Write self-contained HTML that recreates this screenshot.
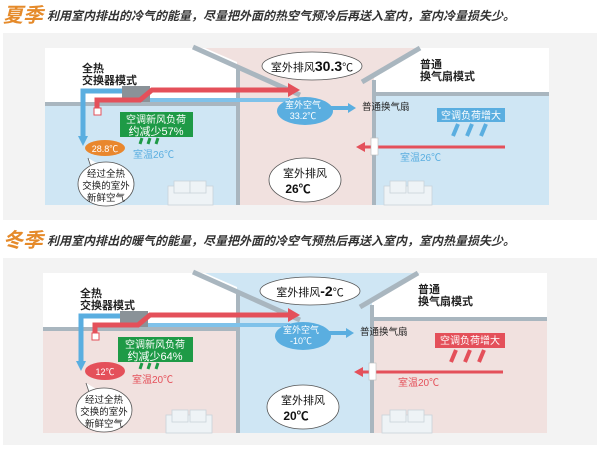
<!DOCTYPE html>
<html><head><meta charset="utf-8"><style>
body{margin:0;background:#fff;width:600px;height:450px;overflow:hidden}
svg{display:block}
text{font-family:"Liberation Sans","Noto Sans CJK SC",sans-serif}
</style></head><body>
<svg width="600" height="450" viewBox="0 0 600 450">
<defs>
<marker id="ab" markerWidth="4" markerHeight="4" refX="2" refY="2" orient="auto" markerUnits="strokeWidth"><path d="M0,0L4,2L0,4z" fill="#5aaee0"/></marker>
<marker id="ar" markerWidth="3" markerHeight="3" refX="1.5" refY="1.5" orient="auto" markerUnits="strokeWidth"><path d="M0,0L3,1.5L0,3z" fill="#e4505a"/></marker>
</defs>

<!-- SUMMER -->
<g>
<text x="3" y="22" font-size="20" font-weight="bold" font-style="italic" fill="#e58a2a">夏季</text>
<text x="47" y="20" font-size="12" font-weight="bold" font-style="italic" fill="#333">利用室内排出的冷气的能量，尽量把外面的热空气预冷后再送入室内，室内冷量损失少。</text>
<rect x="3" y="33" width="594" height="187" fill="#f3f3f3"/>
<rect x="45" y="48" width="504" height="157" fill="#fff"/>
<rect x="45" y="105" width="192" height="100" fill="#cfe6f4"/>
<polygon points="205,48 420,48 374,78 374,205 237,205 237,62" fill="#f1e1df"/>
<rect x="376" y="95" width="173" height="110" fill="#cfe6f4"/>
<line x1="45" y1="104" x2="237" y2="104" stroke="#a9b6bf" stroke-width="4"/>
<line x1="376" y1="94" x2="549" y2="94" stroke="#a9b6bf" stroke-width="4"/>
<line x1="193" y1="47" x2="300" y2="95" stroke="#a9b6bf" stroke-width="5"/>
<line x1="420" y1="48" x2="362" y2="82" stroke="#a9b6bf" stroke-width="5"/>
<line x1="238" y1="66" x2="238" y2="205" stroke="#a9b6bf" stroke-width="4"/>
<line x1="374" y1="80" x2="374" y2="205" stroke="#a9b6bf" stroke-width="4"/>
<text x="82" y="72" font-size="11" font-weight="bold" fill="#222">全热</text>
<text x="82" y="84" font-size="11" font-weight="bold" fill="#222">交换器模式</text>
<text x="420" y="68" font-size="11" font-weight="bold" fill="#222">普通</text>
<text x="420" y="80" font-size="11" font-weight="bold" fill="#222">换气扇模式</text>
<!-- ducts -->
<path d="M83,140 V91 H130" fill="none" stroke="#5aaee0" stroke-width="5" marker-end=""/>
<path d="M78,136 L83,146 L88,136z" fill="#5aaee0"/>
<line x1="148" y1="100" x2="290" y2="100" stroke="#7fc2ea" stroke-width="4"/>
<rect x="122" y="86" width="28" height="16" fill="#8a9298"/>
<path d="M97,115 V100 H140 L152,90 H290" fill="none" stroke="#e4505a" stroke-width="5"/>
<path d="M288,83 L300,90 L288,97z" fill="#e4505a"/>
<rect x="94" y="108" width="7" height="7" fill="#fff" stroke="#e4505a"/>
<!-- green -->
<rect x="120" y="112" width="73" height="25" fill="#1e9a46"/>
<text x="156" y="123" font-size="10" fill="#fff" text-anchor="middle">空调新风负荷</text>
<text x="156" y="135" font-size="11" fill="#fff" text-anchor="middle">约减少57%</text>
<path d="M142,138 l-2,6 M150,138 l-2,6 M158,138 l-2,6" stroke="#1e9a46" stroke-width="3"/>
<ellipse cx="105" cy="148" rx="20" ry="8" fill="#e9872d"/>
<text x="105" y="152" font-size="9" fill="#fff" text-anchor="middle">28.8℃</text>
<text x="133" y="158" font-size="10" fill="#5aaee0">室温26℃</text>
<path d="M88,158 L92,170 L100,165" fill="#fff" stroke="#555" stroke-width="0.8"/>
<ellipse cx="106" cy="184" rx="28" ry="22" fill="#fff" stroke="#555" stroke-width="0.8"/>
<text x="106" y="177" font-size="9.5" text-anchor="middle" fill="#222">经过全热</text>
<text x="106" y="189" font-size="9.5" text-anchor="middle" fill="#222">交换的室外</text>
<text x="106" y="201" font-size="9.5" text-anchor="middle" fill="#222">新鲜空气</text>
<g fill="#eef3f6" stroke="#c8d3da" stroke-width="0.8"><rect x="168" y="186" width="45" height="19"/><rect x="174" y="181" width="16" height="12"/><rect x="190" y="181" width="16" height="12"/></g>
<g fill="#eef3f6" stroke="#c8d3da" stroke-width="0.8"><rect x="384" y="186" width="48" height="19"/><rect x="390" y="181" width="16" height="12"/><rect x="408" y="181" width="16" height="12"/></g>
<!-- center -->
<ellipse cx="312" cy="66" rx="50" ry="14" fill="#fff" stroke="#555" stroke-width="0.8"/>
<text x="312" y="71" font-size="11" text-anchor="middle" fill="#111">室外排风<tspan font-size="14" font-weight="bold">30.3</tspan>℃</text>
<ellipse cx="305" cy="111" rx="28" ry="14" fill="#5aaee0"/>
<path d="M330,108 H350" stroke="#5aaee0" stroke-width="4"/><path d="M348,103 L356,108 L348,113z" fill="#5aaee0"/>
<text x="303" y="108" font-size="9" fill="#fff" text-anchor="middle">室外空气</text>
<text x="303" y="119" font-size="9" fill="#fff" text-anchor="middle">33.2℃</text>
<ellipse cx="305" cy="180" rx="36" ry="22" fill="#fff" stroke="#555" stroke-width="0.8"/>
<text x="305" y="177" font-size="11" text-anchor="middle" fill="#111">室外排风</text>
<text x="298" y="193" font-size="12" font-weight="bold" text-anchor="middle" fill="#111">26℃</text>
<text x="362" y="110" font-size="9.5" fill="#222">普通换气扇</text>
<rect x="437" y="108" width="68" height="14" fill="#5aaee0"/>
<text x="471" y="119" font-size="10" fill="#fff" text-anchor="middle">空调负荷增大</text>
<path d="M458,124 l-5,12 M472,124 l-5,12 M486,124 l-5,12" stroke="#5aaee0" stroke-width="4"/>
<line x1="505" y1="147" x2="362" y2="147" stroke="#e4505a" stroke-width="3"/>
<path d="M365,142 L356,147 L365,152z" fill="#e4505a"/>
<rect x="371" y="138" width="7" height="17" fill="#fff" stroke="#bbb" stroke-width="0.6"/>
<text x="400" y="161" font-size="10" fill="#5aaee0">室温26℃</text>
</g>

<!-- WINTER -->
<g transform="translate(0,225)">
<text x="3" y="22" font-size="20" font-weight="bold" font-style="italic" fill="#e58a2a">冬季</text>
<text x="47" y="20" font-size="12" font-weight="bold" font-style="italic" fill="#333">利用室内排出的暖气的能量，尽量把外面的冷空气预热后再送入室内，室内热量损失少。</text>
<rect x="3" y="33" width="594" height="187" fill="#f3f3f3"/>
<rect x="43" y="48" width="504" height="160" fill="#fff"/>
<rect x="43" y="105" width="194" height="103" fill="#f1e1df"/>
<polygon points="205,48 420,48 372,78 372,208 237,208 237,62" fill="#cfe6f4"/>
<rect x="374" y="95" width="173" height="113" fill="#f1e1df"/>
<line x1="43" y1="104" x2="237" y2="104" stroke="#a9b6bf" stroke-width="4"/>
<line x1="374" y1="94" x2="547" y2="94" stroke="#a9b6bf" stroke-width="4"/>
<line x1="193" y1="47" x2="300" y2="95" stroke="#a9b6bf" stroke-width="5"/>
<line x1="418" y1="48" x2="360" y2="82" stroke="#a9b6bf" stroke-width="5"/>
<line x1="238" y1="66" x2="238" y2="208" stroke="#a9b6bf" stroke-width="4"/>
<line x1="372" y1="80" x2="372" y2="208" stroke="#a9b6bf" stroke-width="4"/>
<text x="80" y="72" font-size="11" font-weight="bold" fill="#222">全热</text>
<text x="80" y="84" font-size="11" font-weight="bold" fill="#222">交换器模式</text>
<text x="418" y="68" font-size="11" font-weight="bold" fill="#222">普通</text>
<text x="418" y="80" font-size="11" font-weight="bold" fill="#222">换气扇模式</text>
<path d="M81,140 V91 H128" fill="none" stroke="#5aaee0" stroke-width="5"/>
<path d="M76,136 L81,146 L86,136z" fill="#5aaee0"/>
<line x1="146" y1="100" x2="290" y2="100" stroke="#7fc2ea" stroke-width="4"/>
<rect x="120" y="86" width="28" height="16" fill="#8a9298"/>
<path d="M95,115 V100 H138 L150,90 H290" fill="none" stroke="#e4505a" stroke-width="5"/>
<path d="M288,83 L300,90 L288,97z" fill="#e4505a"/>
<rect x="92" y="108" width="7" height="7" fill="#fff" stroke="#e4505a"/>
<rect x="118" y="112" width="75" height="25" fill="#1e9a46"/>
<text x="155" y="123" font-size="10" fill="#fff" text-anchor="middle">空调新风负荷</text>
<text x="155" y="135" font-size="11" fill="#fff" text-anchor="middle">约减少64%</text>
<path d="M142,138 l-2,6 M150,138 l-2,6 M158,138 l-2,6" stroke="#1e9a46" stroke-width="3"/>
<ellipse cx="105" cy="146" rx="20" ry="9" fill="#e4505a"/>
<text x="105" y="150" font-size="9" fill="#fff" text-anchor="middle">12℃</text>
<text x="132" y="158" font-size="10" fill="#e4505a">室温20℃</text>
<path d="M86,158 L90,170 L98,165" fill="#fff" stroke="#555" stroke-width="0.8"/>
<ellipse cx="104" cy="185" rx="28" ry="22" fill="#fff" stroke="#555" stroke-width="0.8"/>
<text x="104" y="178" font-size="9.5" text-anchor="middle" fill="#222">经过全热</text>
<text x="104" y="190" font-size="9.5" text-anchor="middle" fill="#222">交换的室外</text>
<text x="104" y="202" font-size="9.5" text-anchor="middle" fill="#222">新鲜空气</text>
<g fill="#eef3f6" stroke="#c8d3da" stroke-width="0.8"><rect x="166" y="190" width="46" height="18"/><rect x="172" y="185" width="16" height="12"/><rect x="190" y="185" width="16" height="12"/></g>
<g fill="#eef3f6" stroke="#c8d3da" stroke-width="0.8"><rect x="382" y="190" width="50" height="18"/><rect x="390" y="185" width="16" height="12"/><rect x="408" y="185" width="16" height="12"/></g>
<ellipse cx="310" cy="66" rx="50" ry="14" fill="#fff" stroke="#555" stroke-width="0.8"/>
<text x="310" y="71" font-size="11" text-anchor="middle" fill="#111">室外排风<tspan font-size="14" font-weight="bold">-2</tspan>℃</text>
<ellipse cx="303" cy="111" rx="28" ry="14" fill="#5aaee0"/>
<path d="M328,108 H348" stroke="#5aaee0" stroke-width="4"/><path d="M346,103 L354,108 L346,113z" fill="#5aaee0"/>
<text x="301" y="108" font-size="9" fill="#fff" text-anchor="middle">室外空气</text>
<text x="301" y="119" font-size="9" fill="#fff" text-anchor="middle">-10℃</text>
<ellipse cx="303" cy="182" rx="36" ry="22" fill="#fff" stroke="#555" stroke-width="0.8"/>
<text x="303" y="179" font-size="11" text-anchor="middle" fill="#111">室外排风</text>
<text x="296" y="195" font-size="12" font-weight="bold" text-anchor="middle" fill="#111">20℃</text>
<text x="360" y="110" font-size="9.5" fill="#222">普通换气扇</text>
<rect x="435" y="108" width="70" height="15" fill="#e4505a"/>
<text x="470" y="119" font-size="10" fill="#fff" text-anchor="middle">空调负荷增大</text>
<path d="M456,125 l-5,12 M470,125 l-5,12 M484,125 l-5,12" stroke="#e4505a" stroke-width="4"/>
<line x1="503" y1="147" x2="360" y2="147" stroke="#e4505a" stroke-width="3"/>
<path d="M363,142 L354,147 L363,152z" fill="#e4505a"/>
<rect x="369" y="138" width="7" height="17" fill="#fff" stroke="#bbb" stroke-width="0.6"/>
<text x="398" y="161" font-size="10" fill="#e4505a">室温20℃</text>
</g>
</svg>
</body></html>
